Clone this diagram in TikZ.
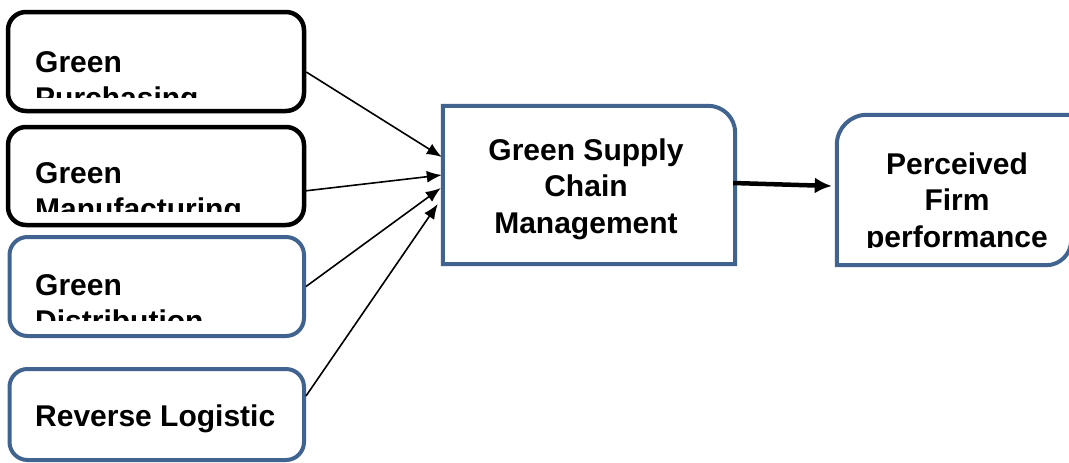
\documentclass[tikz,border=0pt]{standalone}
\usepackage{fontspec}
\setmainfont{Liberation Sans}
\usetikzlibrary{arrows.meta,calc}
\definecolor{boxblue}{RGB}{64,99,144}
\begin{document}
\begin{tikzpicture}[x=1pt,y=-1pt,
  box/.style={draw, rounded corners=18pt, line width=4.5pt, inner sep=0pt, minimum width=296pt},
  blackbox/.style={box, draw=black},
  bluebox/.style={box, draw=boxblue, line width=4pt},
  lbl/.style={font=\bfseries\fontsize{30}{36.5}\selectfont, inner sep=0pt},
  thinarrow/.style={line width=1.6pt, -{Latex[length=15pt,width=12pt]}},
  thickarrow/.style={line width=4.5pt, -{Latex[length=17pt,width=16pt]}}]
\useasboundingbox (0,0) rectangle (1069,463);

% left boxes
\node[blackbox, minimum height=99pt] (b1) at (156,61.5) {};
\node[blackbox, minimum height=98pt] (b2) at (156,176) {};
\node[bluebox, minimum height=99pt, minimum width=294.5pt] (b3) at (156.75,286.5) {};
\node[bluebox, minimum height=91pt, minimum width=294.5pt] (b4) at (156.75,414.5) {};

% centre box
\node[inner sep=0pt, minimum width=292pt, minimum height=158pt] (gscm) at (589,185) {};
\draw[boxblue, line width=4pt] (gscm.south west) -- (gscm.north west)
  -- ([xshift=-27pt]gscm.north east) arc[start angle=90, end angle=0, radius=27pt]
  -- (gscm.south east) -- cycle;

% right box
\node[inner sep=0pt, minimum width=234pt, minimum height=150pt] (pfp) at (954,190) {};
\draw[boxblue, line width=4pt] (pfp.south west) -- ([yshift=-30pt]pfp.north west)
  arc[start angle=180, end angle=90, radius=30pt] -- (pfp.north east)
  -- ([yshift=25pt]pfp.south east) arc[start angle=0, end angle=-90, radius=25pt] -- cycle;

% texts (base anchor = baseline of the last line)
\begin{scope}
\clip (10,14) rectangle (302,97);
\node[lbl, anchor=base west, align=left] (t1) at (35,108.5) {Green\\Purchasing};
\end{scope}
\begin{scope}
\clip (10,129) rectangle (302,211);
\node[lbl, anchor=base west, align=left] (t2) at (35,219.5) {Green\\Manufacturing};
\end{scope}
\begin{scope}
\clip (11,239) rectangle (302,320);
\node[lbl, anchor=base west, align=left] (t3) at (35,331.5) {Green\\Distribution};
\end{scope}
\node[lbl, anchor=base west] (t4) at (35,426) {Reverse Logistic};
\node[lbl, anchor=base, align=center] (t5) at (586,233) {Green Supply\\Chain\\Management};
\begin{scope}
\clip (839,117) rectangle (1069,247);
\node[lbl, anchor=base, align=center] (t6) at (957,247) {Perceived\\Firm\\performance};
\end{scope}

% connectors
\draw[thinarrow] ([yshift=-10.5pt]b1.east) -- ([yshift=28pt,xshift=-1pt]gscm.west);
\draw[thinarrow] ([yshift=-15pt,xshift=-2pt]b2.east) -- ([yshift=10pt,xshift=-1pt]gscm.west);
\draw[thinarrow] (b3.east) -- ([yshift=-3pt,xshift=-2pt]gscm.west);
\draw[thinarrow] ([yshift=18.5pt]b4.east) -- ([yshift=-19pt,xshift=-5pt]gscm.west);
\draw[thickarrow] ([yshift=2pt,xshift=-2pt]gscm.east) -- ([yshift=4pt,xshift=-5pt]pfp.west);
\end{tikzpicture}
\end{document}
